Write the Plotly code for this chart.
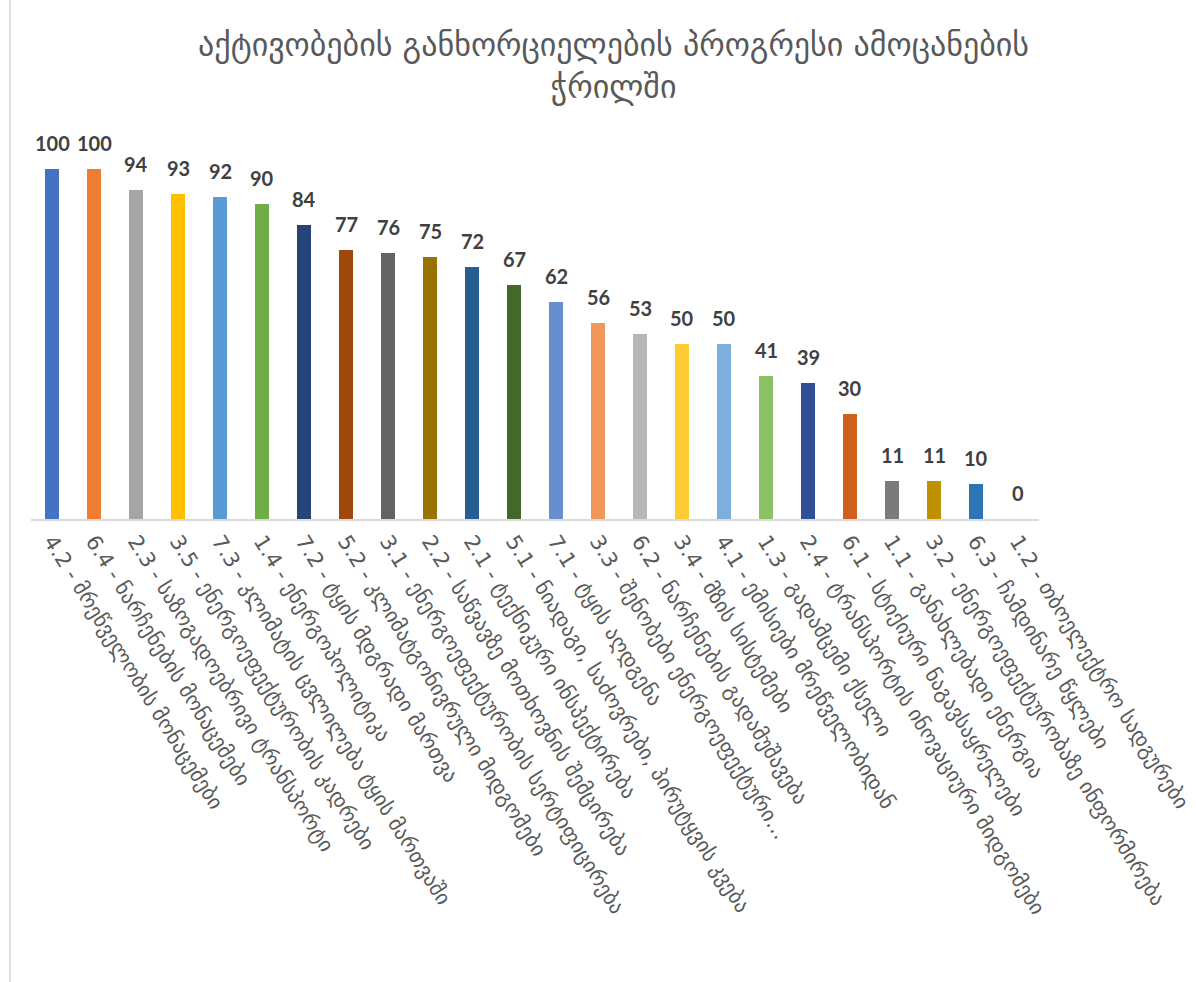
import plotly.graph_objects as go

categories = [
    "4.2 - მრეწველობის მონაცემები",
    "6.4 - ნარჩენების მონაცემები",
    "2.3 - საზოგადოებრივი ტრანსპორტი",
    "3.5 - ენერგოეფექტურობის კადრები",
    "7.3 - კლიმატის ცვლილება ტყის მართვაში",
    "1.4 - ენერგოპოლიტიკა",
    "7.2 - ტყის მდგრადი მართვა",
    "5.2 - კლიმატგონივრული მიდგომები",
    "3.1 - ენერგოეფექტურობის სერტიფიცირება",
    "2.2 - საწვავზე მოთხოვნის შემცირება",
    "2.1 - ტექნიკური ინსპექტირება",
    "5.1 - ნიადაგი, საძოვრები, პირუტყვის კვება",
    "7.1 - ტყის აღდგენა",
    "3.3 - შენობები ენერგოეფექტური…",
    "6.2 - ნარჩენების გადამუშავება",
    "3.4 - მზის სისტემები",
    "4.1 - ემისიები მრეწველობიდან",
    "1.3 - გადამცემი ქსელი",
    "2.4 - ტრანსპორტის ინოვაციური მიდგომები",
    "6.1 - სტიქიური ნაგავსაყრელები",
    "1.1 - განახლებადი ენერგია",
    "3.2 - ენერგოეფექტურობაზე ინფორმირება",
    "6.3 - ჩამდინარე წყლები",
    "1.2 - თბოელექტრო სადგურები",
]

values = [100, 100, 94, 93, 92, 90, 84, 77, 76, 75, 72, 67, 62, 56, 53, 50, 50, 41, 39, 30, 11, 11, 10, 0]

bar_colors = [
    "#4472C4", "#ED7D31", "#A5A5A5", "#FFC000", "#5B9BD5", "#70AD47",
    "#264478", "#9E480E", "#636363", "#997300", "#255E91", "#43682B",
    "#698ED0", "#F1975A", "#B7B7B7", "#FFCD33", "#7CAFDD", "#8CC168",
    "#314F96", "#D0601C", "#7B7B7B", "#BF9000", "#2E75B6", "#548235",
]

title_text = "აქტივობების განხორციელების პროგრესი ამოცანების<br>ჭრილში"

fig = go.Figure()
fig.add_trace(go.Bar(
    x=categories,
    y=values,
    marker=dict(color=bar_colors, line=dict(width=0)),
    width=0.34,
    hoverinfo="x+y",
))

annotations = [
    dict(x=c, y=v, xref="x", yref="y", text=str(v), showarrow=False,
         yanchor="bottom", yshift=12,
         font=dict(family="Lato, 'Open Sans', sans-serif", size=20, color="#404040", weight="bold"))
    for c, v in zip(categories, values)
]

W, H = 1196, 982
plot_l, plot_r = 31, 1039
plot_t, plot_b = 134, 519
ph = plot_b - plot_t
pw = plot_r - plot_l

fig.update_layout(
    width=W, height=H,
    margin=dict(l=plot_l, r=W - plot_r, t=plot_t, b=H - plot_b, pad=0),
    paper_bgcolor="white",
    plot_bgcolor="white",
    showlegend=False,
    bargap=0,
    title=dict(
        text=title_text,
        x=0.513, xanchor="center",
        y=1 - 56 / H, yanchor="top",
        font=dict(family="DejaVu Sans", size=32, color="#595959"),
    ),
    xaxis=dict(
        tickangle=58,
        tickfont=dict(family="DejaVu Sans", size=21, color="#595959"),
        showline=True, linecolor="#D9D9D9", linewidth=1.5,
        showgrid=False, zeroline=False, ticks="",
        automargin=False,
    ),
    yaxis=dict(
        range=[0, 110],
        visible=False,
        showgrid=False, zeroline=False,
        automargin=False,
    ),
    annotations=annotations,
    shapes=[dict(
        type="line", xref="paper", yref="paper",
        x0=(10 - plot_l) / pw, x1=(10 - plot_l) / pw,
        y0=(plot_b - 0) / ph, y1=(plot_b - H) / ph,
        line=dict(color="#D9D9D9", width=1.5),
    )],
)

fig.write_html("out.html", config={"displayModeBar": False},
               post_script="document.body.style.margin='0';")
